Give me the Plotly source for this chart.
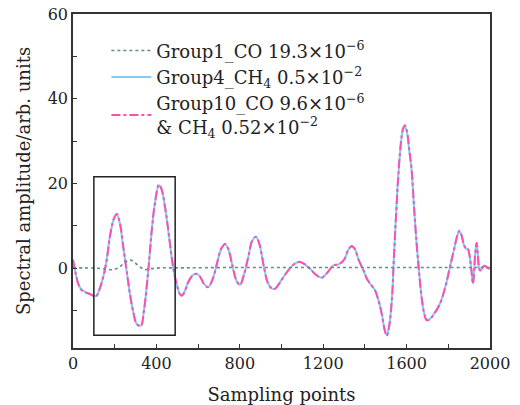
import plotly.graph_objects as go

# Group1_CO (background-like, near zero)
g1_x = [0, 60, 120, 160, 193, 220, 245, 273, 300, 325, 345, 370, 420, 500, 800, 1200, 1600, 2000]
g1_y = [0.1, 0.1, 0.0, -0.2, -0.3, 0.2, 1.2, 2.0, 1.2, 0.2, -0.3, -0.1, 0.1, 0.1, 0.2, 0.2, 0.2, 0.2]

# Group4_CH4
g4_x = [0, 12, 25, 40, 60, 80, 100, 112, 130, 145, 160, 177, 195, 210, 225, 241, 257, 273, 290, 305,
        325, 340, 361, 377, 393, 412, 425, 441, 458, 473, 485, 497, 510, 521, 535, 553, 575, 593, 610,
        630, 649, 670, 690, 710, 729, 745, 765, 785, 801, 820, 840, 860, 878, 895, 915, 935, 955, 969,
        990, 1010, 1040, 1070, 1089, 1110, 1137, 1165, 1193, 1220, 1249, 1273, 1300, 1320, 1337, 1352,
        1370, 1393, 1410, 1425, 1449, 1465, 1481, 1495, 1505, 1515, 1529, 1540, 1550, 1560, 1572, 1582,
        1592, 1602, 1612, 1624, 1636, 1648, 1660, 1672, 1684, 1696, 1710, 1730, 1760, 1785, 1808, 1830,
        1845, 1853, 1862, 1875, 1885, 1893, 1900, 1910, 1918, 1922, 1930, 1936, 1942, 1950, 1958, 1966,
        1976, 1988, 2000]
g4_y = [2.0, -1.0, -3.6, -5.0, -5.6, -6.0, -6.5, -6.5, -4.5, -2.0, 1.5, 7.4, 11.5, 12.7, 10.5, 5.0, -0.5,
        -6.0, -10.5, -13.0, -13.5, -10.0, -0.5, 8.5, 15.3, 19.6, 18.5, 14.5, 8.5, 2.7, -1.0, -3.6, -5.8,
        -6.4, -5.5, -3.2, -1.6, -1.3, -2.0, -3.8, -4.4, -2.5, 1.0, 4.5, 5.7, 4.5, 0.5, -3.0, -3.9, -1.5,
        2.5, 6.5, 7.4, 5.5, 0.5, -3.5, -4.8, -4.8, -3.5, -2.0, 0.0, 1.3, 1.5, 1.0, -0.1, -1.5, -2.2, -1.0,
        0.7, 0.9, 2.0, 4.3, 5.2, 4.5, 2.0, -0.5, -2.5, -3.6, -5.2, -7.5, -10.7, -14.5, -15.8, -14.0, -7.6,
        3.5, 13.0, 21.6, 29.0, 32.5, 33.4, 32.0, 28.0, 23.1, 14.0, 5.8, -1.0, -6.8, -10.5, -12.1, -12.0,
        -10.8, -8.3, -4.5, 0.3, 5.0, 8.0, 8.8, 8.0, 5.5, 4.6, 4.6, 3.5, 0.0, -3.6, -2.0, 4.0, 6.0, 3.0,
        -0.3, -0.5, 0.3, 0.6, 0.1, -0.1]

# Group10_CO & CH4 (nearly identical to Group4)
g10_x = list(g4_x)
g10_y = [v * 1.01 for v in g4_y]

# Highlight box
box_x = [100, 490]
box_y = [-15.8, 21.6]

x_ticks = [0, 400, 800, 1200, 1600, 2000]
y_ticks = [0, 20, 40, 60]

FONT = "DejaVu Serif"

fig = go.Figure()
fig.add_trace(go.Scatter(x=g4_x, y=g4_y, mode="lines", line=dict(color="#7ccdf7", width=2, shape="spline"),
                         name="Group4_CH<sub>4</sub> 0.5×10<sup>−2</sup>", legendrank=2))
fig.add_trace(go.Scatter(x=g10_x, y=g10_y, mode="lines",
                         line=dict(color="#ff4faf", width=2, dash="dashdot", shape="spline"),
                         name="Group10_CO 9.6×10<sup>−6</sup><br>& CH<sub>4</sub> 0.52×10<sup>−2</sup>", legendrank=3))
fig.add_trace(go.Scatter(x=g1_x, y=g1_y, mode="lines", line=dict(color="#5a9484", width=1.6, dash="3px,3px", shape="spline"),
                         name="Group1_CO 19.3×10<sup>−6</sup>", legendrank=1))

fig.add_shape(type="rect", x0=box_x[0], x1=box_x[1], y0=box_y[0], y1=box_y[1],
              line=dict(color="#222", width=1.5), xref="x", yref="y")

axis_common = dict(showgrid=False, zeroline=False, showline=True, linecolor="#333", linewidth=1.5,
                   mirror=True, ticks="inside", ticklen=4, tickcolor="#333", automargin=False,
                   tickfont=dict(family=FONT, size=16, color="#222"))

fig.update_layout(
    width=520, height=405,
    margin=dict(l=73, r=30, t=14, b=57),
    paper_bgcolor="white", plot_bgcolor="white",
    font=dict(family=FONT, size=16, color="#222"),
    showlegend=True,
    legend=dict(x=0.08, y=0.945, xanchor="left", yanchor="top", bgcolor="rgba(0,0,0,0)",
                font=dict(family=FONT, size=18, color="#222"), tracegroupgap=0, itemwidth=40),
    xaxis=dict(range=[0, 2000], tickvals=x_ticks,
               minor=dict(ticks="inside", ticklen=4, dtick=200, tickcolor="#333"),
               title=dict(text="Sampling points", font=dict(family=FONT, size=18), standoff=16),
               **axis_common),
    yaxis=dict(range=[-18.8, 60], tickvals=y_ticks,
               minor=dict(ticks="inside", ticklen=4, tickvals=[-10, 10, 30, 50], tickcolor="#333"),
               title=dict(text="Spectral amplitude/arb. units", font=dict(family=FONT, size=18), standoff=12),
               **axis_common),
)

fig.write_html("out.html")
